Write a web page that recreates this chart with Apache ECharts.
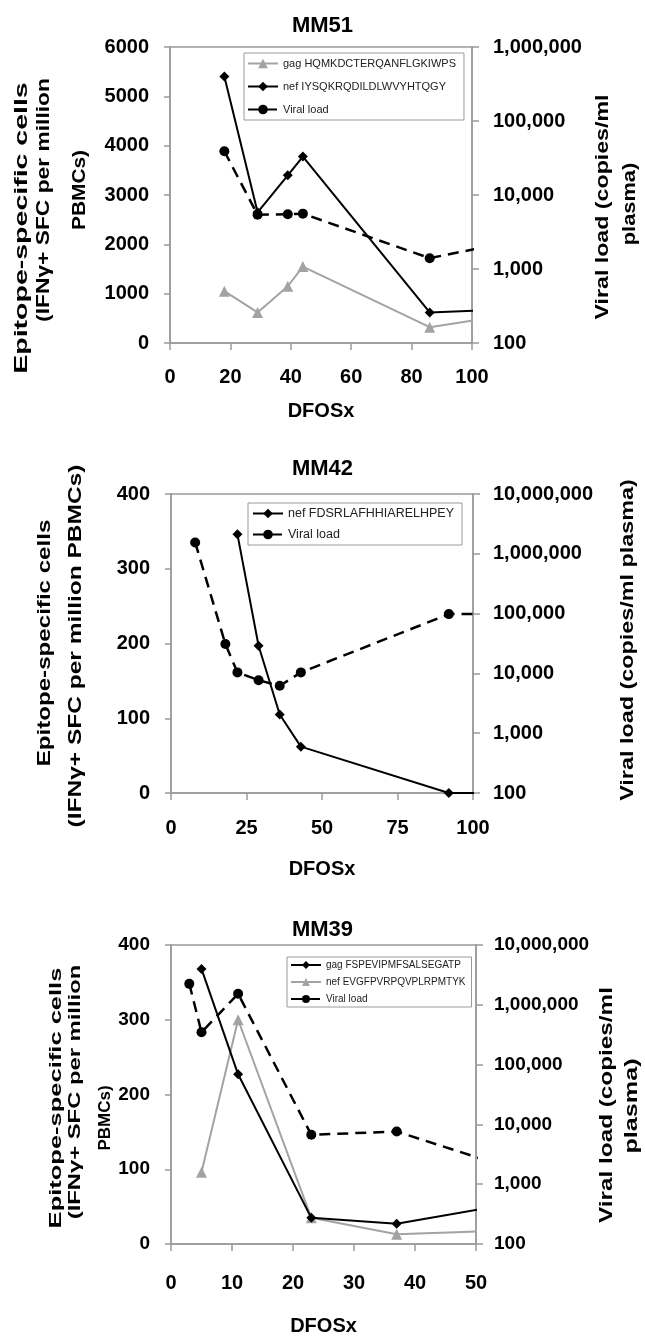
<!DOCTYPE html>
<html>
<head>
<meta charset="utf-8">
<script src="https://cdn.jsdelivr.net/npm/echarts@6.0.0/dist/echarts.min.js"></script>
<style>
  html, body { margin: 0; padding: 0; background: #fff; }
  #chart { width: 645px; height: 1337px; }
</style>
</head>
<body>
<div id="chart"></div>
<script>
// MM51 (last point of each list is where the line runs out past the axis)
const mm51Days = [18, 29, 39, 44, 86, 102];
const mm51Gag = [1050, 620, 1150, 1550, 320, 470];
const mm51Nef = [5400, 2650, 3400, 3780, 620, 660];
const mm51Viral = [39000, 5400, 5500, 5600, 1400, 1900];
const mm51Names = ["gag HQMKDCTERQANFLGKIWPS", "nef IYSQKRQDILDLWVYHTQGY", "Viral load"];

// MM42
const mm42NefDays = [22, 29, 36, 43, 92, 102];
const mm42Nef = [346, 197, 105, 62, 0, 0];
const mm42ViralDays = [8, 18, 22, 29, 36, 43, 92, 102];
const mm42Viral = [1550000, 31000, 10400, 7700, 6200, 10400, 98000, 98000];
const mm42Names = ["nef FDSRLAFHHIARELHPEY", "Viral load"];

// MM39
const mm39Days = [5, 11, 23, 37, 51];
const mm39Gag = [368, 227, 35, 27, 47];
const mm39Nef = [96, 300, 35, 13, 17];
const mm39ViralDays = [3, 5, 11, 23, 37, 51];
const mm39Viral = [2240000, 347000, 1530000, 6700, 7600, 2650];
const mm39Names = ["gag FSPEVIPMFSALSEGATP", "nef EVGFPVRPQVPLRPMTYK", "Viral load"];

const FONT = '"Liberation Sans", Arial, sans-serif';
const AXIS_GRAY = "#9a9a9a";

const styles = {
  gray: { color: "#a3a3a3", line: { color: "#a3a3a3", width: 2 }, symbol: "triangle", size: 11 },
  black: { color: "#000", line: { color: "#000", width: 2 }, symbol: "diamond", size: 10 },
  viral: { color: "#000", line: { color: "#000", width: 2.5, type: [11, 7] }, symbol: "circle", size: 10 }
};

function pairs(days, vals) {
  return days.map((d, i) => [d, vals[i]]);
}

function line(name, axis, days, vals, kind, xMax) {
  const s = styles[kind];
  return {
    name: name,
    type: "line",
    xAxisIndex: axis[0],
    yAxisIndex: axis[1],
    data: pairs(days, vals),
    clip: false,
    symbol: s.symbol,
    symbolSize: (v) => (v[0] > xMax ? 0 : s.size),
    itemStyle: { color: s.color },
    lineStyle: s.line,
    z: kind === "gray" ? 2 : 3
  };
}

function xAxis(grid, max, interval, fontSize, margin, nameGap) {
  return {
    gridIndex: grid, type: "value", min: 0, max: max, interval: interval,
    axisLine: { show: true, onZero: false, lineStyle: { color: AXIS_GRAY, width: 1.5 } },
    axisTick: { show: true, length: 7, lineStyle: { color: AXIS_GRAY, width: 1.5 } },
    axisLabel: { color: "#000", fontWeight: "bold", fontSize: fontSize, fontFamily: FONT, margin: margin },
    splitLine: { show: false },
    name: "DFOSx", nameLocation: "middle", nameGap: nameGap,
    nameTextStyle: { color: "#000", fontWeight: "bold", fontSize: 20, fontFamily: FONT }
  };
}

function leftAxis(grid, max, interval, fontSize) {
  return {
    gridIndex: grid, type: "value", position: "left", min: 0, max: max, interval: interval,
    axisLine: { show: true, lineStyle: { color: AXIS_GRAY, width: 1.5 } },
    axisTick: { show: true, length: 6, lineStyle: { color: AXIS_GRAY, width: 1.5 } },
    axisLabel: {
      color: "#000", fontWeight: "bold", fontSize: fontSize, fontFamily: FONT, margin: 21,
      formatter: (v) => String(v)
    },
    splitLine: { show: false }
  };
}

function rightAxis(grid, max, fontSize, margin) {
  return {
    gridIndex: grid, type: "log", logBase: 10, position: "right", min: 100, max: max, splitNumber: 6,
    axisLine: { show: true, lineStyle: { color: AXIS_GRAY, width: 1.5 } },
    axisTick: { show: true, length: 7, lineStyle: { color: AXIS_GRAY, width: 1.5 } },
    axisLabel: {
      color: "#000", fontWeight: "bold", fontSize: fontSize, fontFamily: FONT, margin: margin,
      formatter: (v) => Math.round(v).toLocaleString("en-US")
    },
    minorTick: { show: false },
    splitLine: { show: false }
  };
}

function legend(left, top, names, fontSize, itemGap, itemHeight, padding) {
  return {
    orient: "vertical", left: left, top: top, data: names,
    itemWidth: 30, itemHeight: itemHeight, itemGap: itemGap, padding: padding,
    borderColor: AXIS_GRAY, borderWidth: 1, selectedMode: false,
    textStyle: { color: "#222", fontSize: fontSize, fontFamily: FONT }
  };
}

// rotated axis titles (read bottom to top)
function vtext(text, x, y, size, scale) {
  return {
    type: "text", x: x, y: y, rotation: Math.PI / 2, scaleX: scale,
    style: {
      text: text, fill: "#000", font: "bold " + size + "px " + FONT,
      align: "center", verticalAlign: "middle", textAlign: "center", textVerticalAlign: "middle"
    }
  };
}

const chart = echarts.init(document.getElementById("chart"));
chart.setOption({
  animation: false,
  backgroundColor: "#fff",
  title: [
    { text: "MM51", left: "center", top: 10, textStyle: { fontSize: 22, fontWeight: "bold", fontFamily: FONT, color: "#000" } },
    { text: "MM42", left: "center", top: 453, textStyle: { fontSize: 22, fontWeight: "bold", fontFamily: FONT, color: "#000" } },
    { text: "MM39", left: "center", top: 914, textStyle: { fontSize: 22, fontWeight: "bold", fontFamily: FONT, color: "#000" } }
  ],
  grid: [
    { left: 170, top: 47, width: 302, height: 296, show: true, borderColor: AXIS_GRAY, borderWidth: 1.5 },
    { left: 171, top: 494, width: 302, height: 299, show: true, borderColor: AXIS_GRAY, borderWidth: 1.5 },
    { left: 171, top: 945, width: 305, height: 300, show: true, borderColor: AXIS_GRAY, borderWidth: 1.5 }
  ],
  xAxis: [
    xAxis(0, 100, 20, 20, 24, 58),
    xAxis(1, 100, 25, 20, 25, 66),
    xAxis(2, 50, 10, 20, 29, 72)
  ],
  yAxis: [
    leftAxis(0, 6000, 1000, 20),
    rightAxis(0, 1000000, 20, 21),
    leftAxis(1, 400, 100, 20),
    rightAxis(1, 10000000, 20, 20),
    leftAxis(2, 400, 100, 19),
    rightAxis(2, 10000000, 19, 18)
  ],
  legend: [
    legend(244, 53, mm51Names, 11, 12, 12, [5, 8, 5, 3]),
    legend(248, 503, mm42Names, 12.5, 8, 12, [4, 8, 4, 4]),
    legend(287, 957, mm39Names, 10, 7, 10, [3, 6, 3, 3])
  ],
  graphic: [
    vtext("Epitope-specific cells", 22, 228, 19, 1.5),
    vtext("(IFNγ+ SFC per million", 44, 200, 19, 1.2),
    vtext("PBMCs)", 80, 190, 19, 1.1),
    vtext("Viral load (copies/ml", 603, 207, 19, 1.22),
    vtext("plasma)", 630, 204, 19, 1.15),

    vtext("Epitope-specific cells", 45, 643, 19, 1.27),
    vtext("(IFNγ+ SFC per million PBMCs)", 76, 646, 19, 1.29),
    vtext("Viral load (copies/ml plasma)", 628, 640, 19, 1.23),

    vtext("Epitope-specific cells", 56, 1098, 17, 1.5),
    vtext("(IFNγ+ SFC per million", 75, 1092, 17, 1.4),
    vtext("PBMCs)", 105, 1118, 17, 1.0),
    vtext("Viral load (copies/ml", 607, 1105, 18, 1.35),
    vtext("plasma)", 632, 1106, 18, 1.4)
  ],
  series: [
    line(mm51Names[0], [0, 0], mm51Days, mm51Gag, "gray", 100),
    line(mm51Names[1], [0, 0], mm51Days, mm51Nef, "black", 100),
    line(mm51Names[2], [0, 1], mm51Days, mm51Viral, "viral", 100),

    line(mm42Names[0], [1, 2], mm42NefDays, mm42Nef, "black", 100),
    line(mm42Names[1], [1, 3], mm42ViralDays, mm42Viral, "viral", 100),

    line(mm39Names[0], [2, 4], mm39Days, mm39Gag, "black", 50),
    line(mm39Names[1], [2, 4], mm39Days, mm39Nef, "gray", 50),
    line(mm39Names[2], [2, 5], mm39ViralDays, mm39Viral, "viral", 50)
  ]
});
</script>
</body>
</html>
